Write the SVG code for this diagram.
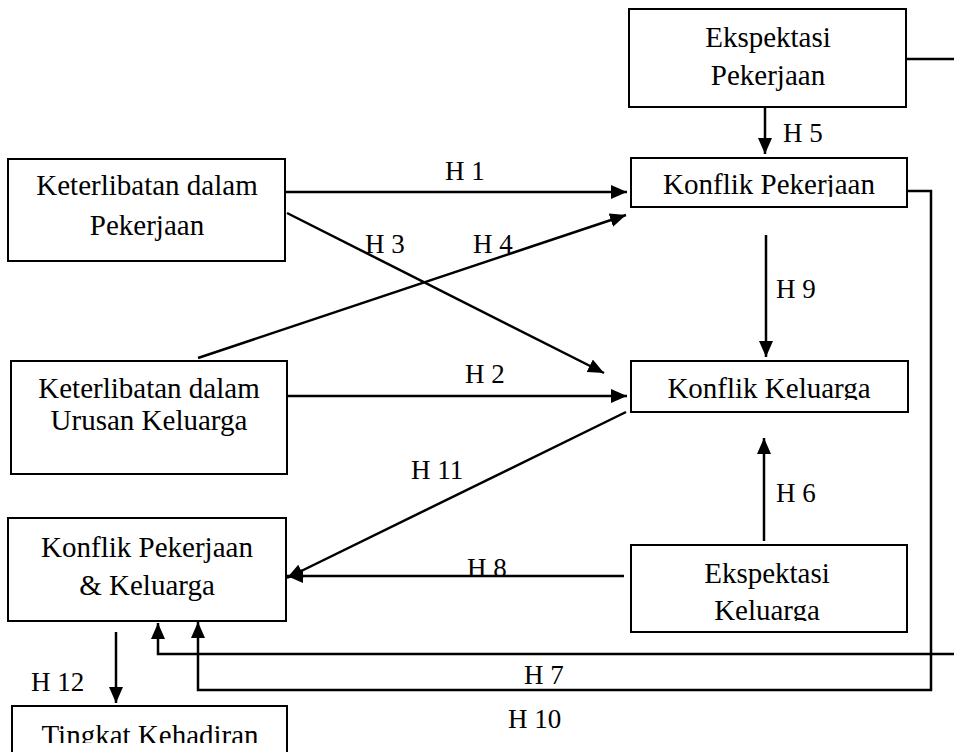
<svg xmlns="http://www.w3.org/2000/svg" width="954" height="752" viewBox="0 0 954 752">
<style>
.box{fill:#fff;stroke:#000;stroke-width:2}
text{font-family:'Liberation Serif','Tinos','Times New Roman','DejaVu Serif',serif;fill:#000}
.t{font-size:29px;text-anchor:middle}
.l{font-size:27px}
.c{fill:none;stroke:#000;stroke-width:2.5}
</style>
<defs>
<marker id="ah" markerUnits="userSpaceOnUse" markerWidth="16" markerHeight="14" refX="16" refY="7" orient="auto">
<path d="M0,0 L16,7 L0,14 z" fill="#000"/>
</marker>
<clipPath id="cKP"><rect x="631" y="158" width="276" height="39"/></clipPath>
<clipPath id="cKK"><rect x="631" y="361" width="277" height="39"/></clipPath>
<clipPath id="cEK"><rect x="631" y="545" width="276" height="76"/></clipPath>
<clipPath id="cTK"><rect x="12" y="706" width="275" height="37"/></clipPath>
</defs>
<rect width="954" height="752" fill="#fff"/>
<g id="connectors">
<line class="c" x1="899" y1="59" x2="954" y2="59"/>
<line class="c" x1="765" y1="103" x2="765" y2="154" marker-end="url(#ah)"/>
<line class="c" x1="286" y1="192" x2="627" y2="192" marker-end="url(#ah)"/>
<line class="c" x1="287" y1="213" x2="604" y2="373" marker-end="url(#ah)"/>
<line class="c" x1="198" y1="358" x2="626" y2="215" marker-end="url(#ah)"/>
<line class="c" x1="286" y1="396" x2="627" y2="396" marker-end="url(#ah)"/>
<line class="c" x1="766" y1="235" x2="766" y2="357" marker-end="url(#ah)"/>
<line class="c" x1="764" y1="541" x2="764" y2="438" marker-end="url(#ah)"/>
<line class="c" x1="626" y1="412" x2="287" y2="578" marker-end="url(#ah)"/>
<line class="c" x1="624" y1="576" x2="287" y2="576" marker-end="url(#ah)"/>
<line class="c" x1="116" y1="632" x2="116" y2="703" marker-end="url(#ah)"/>
<polyline class="c" points="954,654 158,654 158,623" marker-end="url(#ah)"/>
<polyline class="c" points="902,191 931,191 931,690 198,690 198,622" marker-end="url(#ah)"/>
</g>
<g id="labels" font-family="Liberation Serif, serif">
<text class="l" x="445" y="180">H 1</text>
<text class="l" x="465" y="383">H 2</text>
<text class="l" x="365" y="253">H 3</text>
<text class="l" x="473" y="253">H 4</text>
<text class="l" x="783" y="142">H 5</text>
<text class="l" x="776" y="502">H 6</text>
<text class="l" x="524" y="684">H 7</text>
<text class="l" x="467" y="577">H 8</text>
<text class="l" x="776" y="298">H 9</text>
<text class="l" x="508" y="728">H 10</text>
<text class="l" x="411" y="479">H 11</text>
<text class="l" x="31" y="691">H 12</text>
</g>
<g id="ekspektasi-pekerjaan">
<rect class="box" x="629" y="9" width="277" height="98"/>
<text class="t" x="768" y="47">Ekspektasi</text>
<text class="t" x="768" y="85">Pekerjaan</text>
</g>
<g id="konflik-pekerjaan">
<rect class="box" x="631" y="158" width="276" height="49"/>
<text class="t" x="769" y="194" clip-path="url(#cKP)">Konflik Pekerjaan</text>
</g>
<g id="keterlibatan-pekerjaan">
<rect class="box" x="8" y="159" width="277" height="102"/>
<text class="t" x="147" y="195">Keterlibatan dalam</text>
<text class="t" x="147" y="235">Pekerjaan</text>
</g>
<g id="keterlibatan-keluarga">
<rect class="box" x="11" y="361" width="276" height="113"/>
<text class="t" x="149" y="398">Keterlibatan dalam</text>
<text class="t" x="149" y="430">Urusan Keluarga</text>
</g>
<g id="konflik-keluarga">
<rect class="box" x="631" y="361" width="277" height="51"/>
<text class="t" x="769" y="398" clip-path="url(#cKK)">Konflik Keluarga</text>
</g>
<g id="ekspektasi-keluarga">
<rect class="box" x="631" y="545" width="276" height="87"/>
<text class="t" x="767" y="583">Ekspektasi</text>
<text class="t" x="767" y="620" clip-path="url(#cEK)">Keluarga</text>
</g>
<g id="konflik-pekerjaan-keluarga">
<rect class="box" x="8" y="518" width="278" height="103"/>
<text class="t" x="147" y="557">Konflik Pekerjaan</text>
<text class="t" x="147" y="595">&amp; Keluarga</text>
</g>
<g id="tingkat-kehadiran">
<rect class="box" x="12" y="706" width="275" height="60"/>
<text class="t" x="150" y="745" clip-path="url(#cTK)">Tingkat Kehadiran</text>
</g>
</svg>
